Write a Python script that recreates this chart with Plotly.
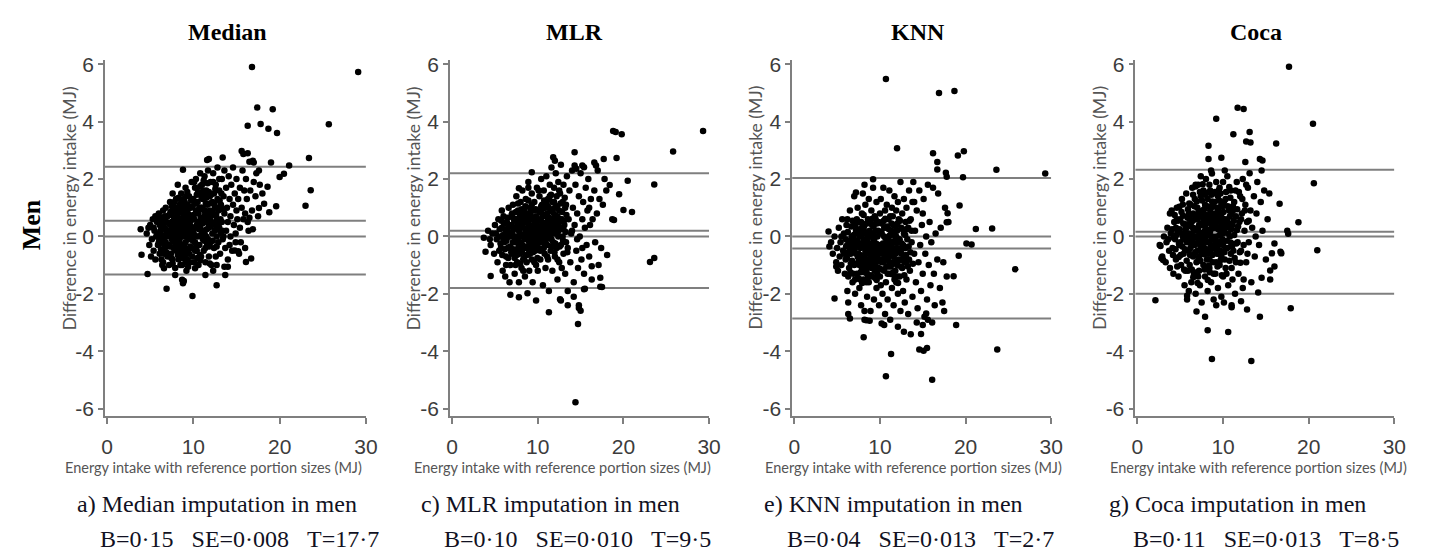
import plotly.graph_objects as go

# ---------------- data ----------------
panel_titles = ["Median", "MLR", "KNN", "Coca"]
captions = ["a) Median imputation in men", "c) MLR imputation in men",
            "e) KNN imputation in men", "g) Coca imputation in men"]
stats = ["B=0·15   SE=0·008   T=17·7", "B=0·10   SE=0·010   T=9·5",
         "B=0·04   SE=0·013   T=2·7", "B=0·11   SE=0·013   T=8·5"]

# horizontal reference lines (upper LoA, mean difference, zero, lower LoA)
median_lines = [2.43, 0.55, 0.0, -1.33]
mlr_lines = [2.20, 0.20, 0.0, -1.80]
knn_lines = [2.04, 0.0, -0.42, -2.86]
coca_lines = [2.32, 0.16, 0.0, -2.00]

x_ticks = [0, 10, 20, 30]
y_ticks = [-6, -4, -2, 0, 2, 4, 6]
y_ticktext = ["-6", "-4", "-2", "0", "2", "4", "6"]

median_pts = [
    (3.9, 0.25), (4.0, -0.64), (4.7, -1.31), (6.9, -1.82), (9.9, -2.08), (8.8, -1.63), (8.9, -1.55),
    (12.7, -1.7), (11.4, -1.34), (13.6, -1.06), (14.0, -1.06), (13.7, -1.34), (12.3, -1.2), (16.1, -0.89),
    (16.7, -0.77), (8.8, 2.32), (11.8, 2.7), (11.6, 2.66), (13.4, 2.75), (15.6, 2.98), (15.8, 2.87),
    (16.9, 2.64), (17.0, 2.58), (19.0, 2.58), (21.1, 2.47), (20.5, 2.18), (20.0, 2.07), (18.6, 1.73),
    (18.8, 0.84), (19.6, 1.05), (18.2, 1.14), (17.6, 0.99), (16.5, 0.65), (16.8, 5.9), (29.1, 5.73),
    (17.4, 4.49), (19.2, 4.43), (16.3, 3.86), (17.8, 3.92), (18.7, 3.75), (19.7, 3.6), (25.7, 3.91),
    (23.4, 2.73), (23.6, 1.61), (23.0, 1.07), (16.3, 0.5), (16.9, 0.25), (14.8, -0.49), (15.2, -0.52),
    (6.4, -1.0), (6.6, -1.11), (7.6, -0.94), (7.9, -1.34), (8.7, -1.51), (9.4, -1.06), (10.2, -1.11),
    (10.8, -0.83), (11.9, -0.94), (12.7, -1.0),
    (4.6, 0.1), (4.9, -0.3), (5.0, 0.4), (5.2, -0.1), (5.3, 0.6), (5.4, -0.5), (5.5, 0.2), (5.6, -0.8),
    (5.7, 0.0), (5.8, 0.5), (5.9, -0.3), (6.0, 0.8), (6.1, -0.6), (6.2, 0.2), (6.3, -0.1), (6.4, 0.6),
    (6.5, -0.9), (6.6, 0.3), (6.7, -0.4), (6.8, 1.0), (6.9, 0.0), (7.0, -0.7), (5.1, -0.7), (5.6, 0.7),
    (6.0, -0.2), (6.5, 0.9), (6.9, 0.5), (4.8, 0.3), (5.9, 0.1), (6.3, -0.8), (6.8, -0.2), (5.4, 0.3),
    (6.1, 0.4), (6.6, -0.6), (7.0, 0.7),
    (7.2, -1.0), (7.2, -0.3), (7.3, 0.4), (7.3, 1.2), (7.4, -0.6), (7.4, 0.1), (7.5, 0.8), (7.5, -0.1),
    (7.6, 1.5), (7.6, -0.8), (7.7, 0.3), (7.7, -0.4), (7.8, 0.9), (7.8, 0.0), (7.9, -1.1), (7.9, 0.5),
    (8.0, 1.3), (8.0, -0.5), (8.1, 0.2), (8.1, -0.2), (8.2, 0.7), (8.2, 1.8), (8.3, -0.8), (8.3, 0.4),
    (8.4, 1.1), (8.4, -0.1), (8.5, -0.6), (8.5, 0.6), (8.6, 1.5), (8.6, 0.0), (8.7, -1.0), (8.7, 0.3),
    (8.8, 0.9), (8.8, -0.3), (8.9, 1.3), (8.9, 0.1), (9.0, -0.7), (9.0, 0.5), (9.1, 1.7), (9.1, -0.2),
    (9.2, 0.8), (9.2, -1.2), (9.3, 0.2), (9.3, 1.1), (9.4, -0.5), (9.4, 0.6), (9.5, 1.4), (9.5, -0.1),
    (9.6, -0.9), (9.6, 0.4), (9.7, 1.0), (9.7, 0.0), (9.8, -0.4), (9.8, 1.9), (9.9, 0.7), (9.9, -0.7),
    (7.5, 0.5), (8.0, 0.0), (8.5, 0.2), (9.0, 0.0), (9.5, 0.3), (8.3, -0.4), (8.8, -0.6), (9.3, -0.8),
    (7.9, 1.0), (8.6, 1.2), (9.2, 1.4),
    (10.0, 0.2), (10.0, 1.3), (10.1, -0.9), (10.1, 0.6), (10.2, 1.7), (10.2, -0.2), (10.3, 0.9), (10.3, 2.0),
    (10.4, -0.5), (10.4, 0.4), (10.5, 1.2), (10.5, 0.0), (10.6, -1.0), (10.6, 0.8), (10.7, 1.5), (10.7, -0.3),
    (10.8, 0.3), (10.8, 2.2), (10.9, 1.0), (10.9, -0.7), (11.0, 0.6), (11.0, 1.8), (11.1, -0.1), (11.1, 1.3),
    (11.2, 0.2), (11.2, -0.5), (11.3, 0.9), (11.3, 2.1), (11.4, -0.9), (11.4, 0.5), (11.5, 1.6), (11.5, 0.0),
    (11.6, 1.1), (11.6, -0.3), (11.7, 0.7), (11.7, 2.3), (11.8, -0.7), (11.8, 0.3), (11.9, 1.4), (11.9, 0.9),
    (12.0, -0.2), (12.0, 1.9), (12.1, 0.5), (12.1, -1.0), (12.2, 1.2), (12.2, 0.1), (12.3, 0.8), (12.3, 2.2),
    (12.4, -0.4), (12.4, 1.5), (12.5, 0.4), (12.5, 1.0), (12.6, -0.7), (12.6, 1.8), (12.7, 0.6), (12.7, 0.0),
    (12.8, 1.3), (12.8, 2.4), (12.9, -0.2), (12.9, 0.9), (13.0, 1.6), (13.0, 0.3), (10.5, 0.5), (11.0, 0.1),
    (11.5, 0.6), (12.0, 0.7), (12.5, 0.2), (11.3, 1.5),
    (13.1, -0.6), (13.2, 1.1), (13.3, 2.0), (13.3, 0.5), (13.4, -0.1), (13.5, 1.4), (13.6, 0.8), (13.6, 2.3),
    (13.7, -0.4), (13.8, 0.2), (13.8, 1.7), (13.9, 1.0), (14.0, -0.8), (14.0, 0.5), (14.1, 2.1), (14.2, 1.3),
    (14.3, 0.0), (14.3, 0.7), (14.4, 1.8), (14.5, -0.5), (14.6, 1.1), (14.6, 2.4), (14.7, 0.4), (14.8, 1.5),
    (14.9, -0.2), (15.0, 0.9), (15.0, 2.0), (15.1, 0.6), (15.2, 1.3), (15.3, -0.6), (15.4, 0.3), (15.4, 1.7),
    (13.5, 0.0), (14.2, -0.3), (14.9, 0.1),
    (15.6, 1.0), (15.7, 2.3), (15.8, 0.6), (15.9, 1.6), (16.0, -0.4), (16.1, 2.0), (16.2, 1.3), (16.4, 0.2),
    (16.5, 2.6), (16.6, 1.6), (16.8, 0.9), (17.0, 1.9), (17.2, 1.4), (17.3, 2.2), (17.5, 0.7), (17.7, 1.8),
    (18.0, 1.5), (16.3, 2.9), (17.6, 2.3), (15.5, -0.2), (16.0, 0.8),
]
median_core = [
    (6.25, -0.45), (6.35, 0.05), (6.45, 0.45), (6.55, -0.25), (6.75, 0.25), (6.85, -0.55), (6.95, 0.15),
    (6.15, 0.65), (6.05, -0.15), (6.7, 0.7), (6.3, 0.3), (6.6, -0.05),
    (7.05, 0.05), (7.15, 0.45), (7.25, -0.35), (7.35, 0.85), (7.45, -0.75), (7.55, 0.25), (7.65, -0.15),
    (7.75, 0.65), (7.85, -0.45), (7.95, 0.15), (7.1, -0.6), (7.3, 0.2), (7.5, 1.05), (7.7, 0.05),
    (7.9, -0.25), (7.2, 0.75), (7.6, 0.45), (7.8, 1.2),
    (8.05, 0.35), (8.15, -0.45), (8.25, 0.95), (8.35, 0.05), (8.45, -0.25), (8.55, 0.85), (8.65, 0.35),
    (8.75, -0.75), (8.85, 0.45), (8.95, -0.35), (8.1, 0.6), (8.3, 1.35), (8.5, -1.0), (8.7, 1.0), (8.9, 0.7),
    (8.2, -0.65), (8.4, 0.55), (8.6, -0.45), (8.8, 0.15), (8.0, 0.85),
    (9.05, 0.25), (9.15, 1.05), (9.25, -0.45), (9.35, 0.55), (9.45, 0.05), (9.55, 0.75), (9.65, -0.35),
    (9.75, 1.25), (9.85, 0.25), (9.95, -0.15), (9.1, -0.9), (9.3, 1.55), (9.5, -0.6), (9.7, 0.55),
    (9.9, 1.05), (9.2, 0.35), (9.4, 0.95), (9.6, 0.15), (9.8, -0.05), (9.0, 1.2),
    (10.05, 0.75), (10.15, 0.05), (10.25, 1.15), (10.35, -0.35), (10.45, 0.85), (10.55, 1.55), (10.65, 0.25),
    (10.75, -0.65), (10.85, 0.65), (10.95, 1.35), (10.1, 1.9), (10.3, 0.35), (10.5, -0.75), (10.7, 1.0),
    (10.9, 0.05), (10.2, -0.5), (10.4, 1.45), (10.6, 0.45), (10.8, 1.75), (11.0, 1.0),
    (11.05, 0.45), (11.15, 1.6), (11.25, -0.15), (11.35, 0.75), (11.45, 1.15), (11.55, 0.25), (11.65, 1.85),
    (11.75, 0.45), (11.85, -0.35), (11.95, 1.15), (11.1, 0.95), (11.3, 0.1), (11.5, 1.35), (11.7, -0.1),
    (11.9, 0.6), (11.2, 1.95), (11.4, -0.4), (11.6, 0.75), (11.8, 1.55), (12.0, 0.35),
    (12.05, 1.45), (12.15, 0.85), (12.25, -0.15), (12.35, 0.45), (12.45, 1.15), (12.55, 1.65), (12.65, 0.75),
    (12.75, 0.25), (12.85, 1.0), (12.95, 0.45), (13.05, 1.25), (13.15, 0.6), (13.25, 1.5), (13.35, 0.2),
    (13.45, 0.95), (12.3, 1.9), (12.7, -0.35), (13.0, 2.0), (12.5, 0.75), (13.2, 0.1),
]

mlr_pts = [
    (14.3, 2.93), (11.8, 2.76), (12.0, 2.64), (9.3, 2.24), (14.3, 2.47), (14.5, 2.36), (15.2, 2.47),
    (15.4, 2.41), (16.6, 2.58), (16.8, 2.47), (17.7, 2.7), (19.2, 2.73), (20.5, 1.94), (19.5, 1.47),
    (20.0, 0.92), (21.0, 0.85), (18.7, 0.6), (18.9, 0.57), (18.4, 1.79), (18.1, -0.65), (17.3, -1.44),
    (17.3, -1.75), (16.3, -1.04), (15.4, -1.84), (13.5, -2.4), (14.8, -2.4), (12.7, -2.23), (9.8, -2.23),
    (8.8, -1.98), (7.8, -2.12), (6.8, -2.03), (4.5, -1.38), (3.9, -0.53), (3.7, -0.05), (7.8, 1.68),
    (8.9, 1.70), (25.8, 2.96), (29.3, 3.67), (18.8, 3.67), (19.1, 3.64), (19.8, 3.56), (23.6, 1.81),
    (23.1, -0.89), (23.6, -0.75), (14.4, -5.78), (14.7, -3.05), (14.8, -2.49), (15.0, -2.59),
    (11.3, -2.64), (12.6, -2.19), (17.5, -1.76), (15.5, -1.82),
    (4.2, 0.2), (4.5, -0.3), (4.7, 0.1), (4.9, -0.6), (5.0, 0.4), (5.2, -0.1), (5.3, -0.9), (5.4, 0.6),
    (5.6, 0.0), (5.7, -0.4), (5.8, 0.3), (5.9, -1.2), (6.0, 0.7), (6.1, -0.2), (6.2, 0.1), (6.3, -0.7),
    (6.4, 0.5), (6.5, -0.4), (6.6, 1.0), (6.7, 0.0), (6.8, -1.0), (6.9, 0.4), (7.0, -0.6), (5.1, 0.1),
    (5.5, -0.5), (6.0, -0.1), (6.5, 0.2), (4.4, -0.1), (6.2, -1.4), (6.7, -1.6), (7.0, 0.8), (5.8, 0.9),
    (7.1, -0.2), (7.1, 1.1), (7.2, 0.3), (7.3, -1.3), (7.3, 0.6), (7.4, -0.5), (7.5, 0.0), (7.5, 1.4),
    (7.6, -0.9), (7.6, 0.4), (7.7, 0.9), (7.7, -0.2), (7.8, -1.6), (7.8, 0.2), (7.9, 0.7), (7.9, -0.6),
    (8.0, 1.2), (8.0, 0.0), (8.1, -1.1), (8.1, 0.5), (8.2, -0.3), (8.2, 1.6), (8.3, 0.3), (8.3, -0.8),
    (8.4, 0.9), (8.4, 0.0), (8.5, -1.4), (8.5, 0.6), (8.6, -0.4), (8.6, 1.3), (8.7, 0.2), (8.7, -0.9),
    (8.8, 0.8), (8.8, -0.1), (8.9, 1.9), (8.9, -0.6), (9.0, 0.4), (9.0, -1.2), (9.1, 1.0), (9.1, 0.0),
    (9.2, -0.4), (9.2, 0.6), (9.3, 1.5), (9.3, -0.8), (9.4, 0.2), (9.4, -1.6), (9.5, 0.9), (9.5, -0.2),
    (9.6, 0.5), (9.6, 1.2), (9.7, -0.5), (9.7, 0.1), (9.8, -1.0), (9.8, 0.7), (9.9, 1.7), (9.9, -0.3),
    (7.5, 0.6), (8.0, -0.5), (8.5, 0.1), (9.0, -0.2), (9.5, 0.3), (8.2, 0.8), (8.9, 0.3), (9.6, -0.9),
    (7.4, -1.0),
    (10.0, 0.3), (10.0, -1.2), (10.1, 0.9), (10.1, -0.4), (10.2, 1.4), (10.2, 0.0), (10.3, -0.8), (10.3, 0.6),
    (10.4, 2.0), (10.4, 0.2), (10.5, -0.2), (10.5, 1.1), (10.6, -1.7), (10.6, 0.7), (10.7, 0.0), (10.7, 1.6),
    (10.8, -0.6), (10.8, 0.4), (10.9, 1.0), (10.9, -1.1), (11.0, 0.2), (11.0, 2.1), (11.1, -0.3), (11.1, 0.8),
    (11.2, 1.3), (11.2, -0.8), (11.3, 0.5), (11.3, -1.9), (11.4, 1.8), (11.4, 0.0), (11.5, -0.5), (11.5, 0.9),
    (11.6, 2.4), (11.6, 0.3), (11.7, -1.2), (11.7, 1.2), (11.8, 0.6), (11.8, -0.2), (11.9, 1.7), (11.9, 0.1),
    (12.0, -0.7), (12.0, 1.0), (12.1, 2.2), (12.1, 0.4), (12.2, -0.4), (12.2, 1.4), (12.3, 0.7), (12.3, -1.5),
    (12.4, 0.0), (12.4, 1.9), (12.5, -0.9), (12.5, 0.9), (12.6, 0.3), (12.6, 1.5), (12.7, -0.3), (12.7, 2.5),
    (12.8, 0.6), (12.8, -1.1), (12.9, 1.2), (12.9, 0.0), (13.0, -0.6), (13.0, 1.8), (10.5, 0.5), (11.0, -0.1),
    (11.5, 0.4), (12.0, 0.3), (12.5, 0.5), (11.2, 0.1),
    (13.1, 0.4), (13.2, -1.3), (13.3, 1.1), (13.4, 2.1), (13.5, -0.4), (13.6, 0.6), (13.7, 1.6), (13.8, -0.9),
    (13.9, 0.1), (14.0, 2.3), (14.1, 1.0), (14.2, -1.6), (14.3, 0.4), (14.4, 1.8), (14.5, -0.5), (14.6, 0.8),
    (14.7, -1.1), (14.8, 1.4), (14.9, 0.0), (15.0, 2.2), (15.1, -0.8), (15.2, 0.6), (15.3, 1.2), (15.4, -1.3),
    (15.5, 0.3), (15.6, 1.7), (15.7, -0.3), (15.8, 0.9), (15.9, 2.0), (16.0, -0.7), (16.1, 0.4), (16.2, 1.3),
    (16.3, -1.5), (16.4, 0.6), (16.6, 1.6), (16.7, -0.2), (16.9, 0.8), (17.0, 2.3), (17.2, 1.3), (17.4, -0.4),
    (17.6, 1.1), (17.8, 2.0), (18.0, 1.6), (13.3, -0.2), (14.0, 0.2), (14.6, -0.1), (15.2, -0.4), (16.0, 1.0),
    (17.1, -1.0), (13.5, -1.9), (14.2, -2.1),
]
mlr_core = [
    (5.55, 0.25), (5.65, -0.25), (5.75, 0.55), (5.85, -0.65), (5.95, 0.05), (6.05, 0.45), (6.15, -0.45),
    (6.25, 0.25), (6.35, -0.15), (6.45, 0.65), (6.55, -0.75), (6.65, 0.35), (6.75, -0.35), (6.85, 0.05),
    (6.95, 0.75), (6.3, -1.0), (6.6, 0.0), (6.9, -0.55),
    (7.05, 0.15), (7.15, -0.45), (7.25, 0.55), (7.35, -0.05), (7.45, 0.85), (7.55, -0.65), (7.65, 0.25),
    (7.75, -0.35), (7.85, 0.55), (7.95, -0.95), (7.1, 0.65), (7.3, -0.75), (7.5, 0.3), (7.7, 1.15),
    (7.9, 0.05), (7.2, -0.2), (7.6, -0.1), (7.8, 0.85),
    (8.05, 0.35), (8.15, -0.55), (8.25, 0.05), (8.35, 0.65), (8.45, -0.35), (8.55, 1.05), (8.65, 0.25),
    (8.75, -0.65), (8.85, 0.45), (8.95, -0.15), (8.1, 0.95), (8.3, -1.2), (8.5, -0.1), (8.7, 0.65),
    (8.9, 1.25), (8.2, 0.45), (8.4, -0.75), (8.6, 0.05), (8.8, -0.4), (8.0, -0.2),
    (9.05, 0.15), (9.15, 0.75), (9.25, -0.25), (9.35, 0.35), (9.45, -0.55), (9.55, 0.65), (9.65, -0.05),
    (9.75, 0.95), (9.85, 0.25), (9.95, -0.75), (9.1, -0.6), (9.3, 1.1), (9.5, 0.1), (9.7, 0.45),
    (9.9, 0.55), (9.2, 0.95), (9.4, -0.15), (9.6, -0.35), (9.8, 0.05), (9.0, 0.7),
    (10.05, 0.55), (10.15, -0.15), (10.25, 0.85), (10.35, 0.15), (10.45, -0.45), (10.55, 0.75), (10.65, 0.25),
    (10.75, 1.25), (10.85, -0.25), (10.95, 0.45), (10.1, 1.6), (10.3, -0.5), (10.5, 0.95), (10.7, -0.4),
    (10.9, 0.75), (10.2, 0.35), (10.4, 1.05), (10.6, -0.05), (10.8, 0.15), (11.0, 1.15),
    (11.05, 0.35), (11.15, 1.05), (11.25, -0.05), (11.35, 0.65), (11.45, 0.25), (11.55, 1.45), (11.65, -0.35),
    (11.75, 0.85), (11.85, 0.45), (11.95, -0.55), (11.1, -0.7), (11.3, 1.0), (11.5, 0.1), (11.7, 0.55),
    (11.9, 1.2), (11.2, 0.6), (11.4, 1.4), (11.6, -0.1), (11.8, 0.2), (12.0, 0.75),
    (12.05, -0.25), (12.15, 0.65), (12.25, 1.05), (12.35, 0.15), (12.45, 0.55), (12.55, -0.35), (12.65, 1.15),
    (12.75, 0.25), (12.85, 0.85), (12.95, -0.15), (13.05, 0.55), (13.15, 1.35), (13.25, 0.15), (13.35, 0.75),
    (13.45, -0.55), (12.3, -0.8), (12.7, 0.6), (13.0, 0.25), (12.5, 1.6), (13.2, 1.0),
]

knn_pts = [
    (12.0, 3.07), (16.2, 2.9), (16.7, 2.59), (16.7, 2.33), (19.1, 2.82), (19.8, 2.97), (19.7, 2.06),
    (19.3, 1.08), (21.2, 0.26), (20.1, -0.25), (20.7, -0.28), (19.2, -0.67), (18.6, -1.39), (18.9, -3.09),
    (17.7, 2.22), (17.8, 2.08), (17.9, 0.81), (17.8, 0.49), (4.7, -2.16), (4.0, 0.17), (4.1, -0.35),
    (4.9, -1.05), (9.2, 1.99), (7.2, 1.53), (8.2, 1.8), (6.5, -2.86), (8.2, -2.6), (8.4, -2.92),
    (8.1, -3.51), (10.2, -3.03), (10.5, -3.09), (12.1, -3.15), (12.8, -3.32), (13.6, -3.41), (14.8, -3.4),
    (8.8, -2.94), (15.0, -3.09), (15.4, -2.69), (10.7, 5.49), (16.9, 5.0), (18.7, 5.07), (23.6, 2.32),
    (29.3, 2.19), (23.1, 0.28), (25.8, -1.14), (23.7, -3.94), (10.7, -4.87), (11.3, -4.1), (16.1, -4.99),
    (14.6, -3.94), (15.1, -3.98), (15.5, -3.89),
    (4.3, -0.2), (4.5, -0.6), (4.7, 0.0), (4.9, -0.9), (5.0, -0.4), (5.1, -1.2), (5.2, 0.3), (5.3, -0.7),
    (5.4, -0.2), (5.5, -1.0), (5.6, 0.6), (5.7, -0.5), (5.8, 0.1), (5.9, -1.3), (6.0, -0.8), (6.1, 0.4),
    (6.2, -0.3), (6.3, -2.3), (6.3, -2.7), (6.4, -1.1), (6.5, 0.9), (6.6, -0.6), (6.7, 0.0), (6.8, -1.6),
    (6.9, -0.3), (7.0, 0.5), (5.5, 0.0), (6.0, -0.1), (6.5, -0.5), (7.0, -1.0), (6.2, -1.9), (5.8, -0.6),
    (7.0, 1.4),
    (7.1, -2.0), (7.2, -0.6), (7.2, 0.2), (7.3, -1.3), (7.4, 1.0), (7.4, -0.2), (7.5, -0.9), (7.6, 0.5),
    (7.6, -1.8), (7.7, -0.4), (7.8, 0.0), (7.8, -2.4), (7.9, -1.1), (7.9, 0.8), (8.0, -0.7), (8.0, 1.5),
    (8.1, -0.1), (8.1, -1.5), (8.2, 0.4), (8.2, -2.9), (8.3, -0.5), (8.3, 1.1), (8.4, -1.2), (8.4, 0.1),
    (8.5, -2.1), (8.5, -0.8), (8.6, 0.6), (8.6, -0.2), (8.7, -1.6), (8.7, 1.3), (8.8, -0.6), (8.8, 0.2),
    (8.9, -1.0), (8.9, -2.6), (9.0, 0.9), (9.0, -0.3), (9.1, -1.4), (9.1, 0.4), (9.2, -0.8), (9.2, 1.7),
    (9.3, -0.1), (9.3, -2.2), (9.4, 0.7), (9.4, -1.2), (9.5, -0.5), (9.5, 0.2), (9.6, -1.8), (9.6, 1.2),
    (9.7, -0.7), (9.7, 0.0), (9.8, -1.1), (9.8, 0.5), (9.9, -2.4), (9.9, -0.3), (7.5, -0.3), (8.0, -0.3),
    (8.5, -0.4), (9.0, -0.6), (9.5, -1.0), (8.2, -1.0), (8.9, 0.0), (7.7, -1.5), (9.3, -0.4),
    (10.0, 0.8), (10.0, -1.4), (10.1, -0.4), (10.1, 1.3), (10.2, -0.9), (10.2, 0.1), (10.3, -2.0), (10.3, 0.5),
    (10.4, -0.6), (10.4, 1.7), (10.5, -1.2), (10.5, 0.0), (10.6, -2.7), (10.6, 0.9), (10.7, -0.3), (10.7, -1.6),
    (10.8, 0.3), (10.8, 1.1), (10.9, -0.8), (10.9, -2.2), (11.0, 0.6), (11.0, -0.1), (11.1, -1.3), (11.1, 1.6),
    (11.2, -0.5), (11.2, -2.9), (11.3, 0.2), (11.3, -1.0), (11.4, 1.0), (11.4, -1.8), (11.5, -0.2), (11.5, 0.7),
    (11.6, -0.7), (11.6, -2.4), (11.7, 0.4), (11.7, 1.4), (11.8, -1.2), (11.8, -0.1), (11.9, 0.9), (11.9, -1.6),
    (12.0, -0.4), (12.0, 0.2), (12.1, -2.0), (12.1, 1.2), (12.2, -0.8), (12.2, 0.6), (12.3, -1.4), (12.3, -0.1),
    (12.4, 1.9), (12.4, -2.6), (12.5, 0.3), (12.5, -0.6), (12.6, -1.1), (12.6, 0.8), (12.7, -0.3), (12.7, -1.9),
    (12.8, 1.3), (12.8, 0.1), (12.9, -0.9), (12.9, -2.3), (13.0, 0.5), (13.0, -0.4), (13.1, -1.5), (13.1, 1.0),
    (13.2, -0.1), (13.3, -2.7), (13.3, 0.3), (13.4, -0.8), (13.4, 1.6), (10.5, -0.5), (11.0, -0.7), (11.5, -0.4),
    (12.0, -1.0), (10.8, -0.4), (11.3, -0.5),
    (13.5, -1.2), (13.6, 0.6), (13.7, -0.2), (13.8, -2.1), (13.9, 1.9), (14.0, -0.6), (14.1, 0.2), (14.2, -1.6),
    (14.3, 0.9), (14.4, -2.5), (14.5, -0.9), (14.6, 1.6), (14.7, -0.3), (14.8, -1.9), (14.9, 0.4), (15.0, -1.3),
    (15.1, 1.3), (15.2, -2.8), (15.3, -0.6), (15.4, 0.0), (15.5, -2.2), (15.6, 1.8), (15.7, -1.0), (15.8, 0.5),
    (15.9, -1.7), (16.0, -0.2), (16.2, 1.7), (16.3, -1.3), (16.4, -2.4), (16.5, 0.1), (16.7, -0.8), (16.8, 1.5),
    (17.0, -1.8), (17.1, 0.3), (17.3, -2.3), (17.4, -0.9), (17.6, 1.0), (17.8, -1.4), (18.0, 0.5), (17.5, -2.6),
    (14.0, 1.2), (15.0, 0.8), (16.1, -3.0), (14.3, -3.0), (13.8, 1.2), (15.6, -2.9),
]
knn_core = [
    (6.05, -0.35), (6.15, -0.75), (6.25, 0.15), (6.35, -0.55), (6.45, -0.15), (6.55, -1.25), (6.65, 0.35),
    (6.75, -0.85), (6.85, -0.35), (6.95, 0.05), (6.3, -1.4), (6.6, -0.95), (6.9, -1.3), (6.2, 0.6), (6.8, 0.55),
    (7.05, -0.45), (7.15, 0.35), (7.25, -0.95), (7.35, -0.15), (7.45, -1.45), (7.55, 0.15), (7.65, -0.65),
    (7.75, -1.25), (7.85, -0.25), (7.95, 0.35), (7.1, -1.5), (7.3, 0.6), (7.5, -0.6), (7.7, 0.25),
    (7.9, -0.85), (7.2, -0.3), (7.6, -1.0), (7.8, 0.5),
    (8.05, -0.25), (8.15, -1.25), (8.25, 0.15), (8.35, -0.85), (8.45, 0.45), (8.55, -0.35), (8.65, -1.05),
    (8.75, 0.05), (8.85, -0.45), (8.95, -1.35), (8.1, 0.75), (8.3, -0.2), (8.5, -1.3), (8.7, -0.6),
    (8.9, 0.45), (8.2, -0.65), (8.4, -1.6), (8.6, -0.05), (8.8, -0.95), (8.0, 0.1),
    (9.05, -0.95), (9.15, -0.25), (9.25, 0.35), (9.35, -0.65), (9.45, -1.45), (9.55, -0.25), (9.65, 0.45),
    (9.75, -0.45), (9.85, -0.85), (9.95, 0.15), (9.1, 0.1), (9.3, -1.0), (9.5, 0.6), (9.7, -1.3),
    (9.9, -0.6), (9.2, -0.5), (9.4, 0.0), (9.6, -0.75), (9.8, 0.2), (9.0, -1.1),
    (10.05, -0.55), (10.15, 0.15), (10.25, -1.15), (10.35, -0.25), (10.45, 0.55), (10.55, -0.75),
    (10.65, -0.05), (10.75, -1.05), (10.85, 0.35), (10.95, -0.45), (10.1, -1.7), (10.3, -0.6), (10.5, 0.3),
    (10.7, -0.7), (10.9, -1.3), (10.2, 0.45), (10.4, -0.9), (10.6, -0.25), (10.8, -0.15), (11.0, -1.05),
    (11.05, 0.25), (11.15, -0.35), (11.25, -1.05), (11.35, 0.45), (11.45, -0.55), (11.55, -1.25),
    (11.65, 0.05), (11.75, -0.45), (11.85, 0.35), (11.95, -0.85), (11.1, -0.9), (11.3, -0.2), (11.5, -0.9),
    (11.7, -1.5), (11.9, 0.0), (11.2, 0.7), (11.4, -0.4), (11.6, 0.4), (11.8, -0.6), (12.0, -1.4),
    (12.05, 0.45), (12.15, -0.55), (12.25, -0.15), (12.35, 0.55), (12.45, -1.05), (12.55, -0.25),
    (12.65, 0.25), (12.75, -0.75), (12.85, -1.35), (12.95, 0.05), (13.05, -0.65), (13.15, 0.25),
    (13.25, -1.05), (13.35, -0.35), (13.45, 0.55), (13.55, -0.55), (13.7, 0.2), (13.85, -0.95),
    (12.4, -0.5), (12.9, -0.4),
    (7.42, -0.72), (7.92, -1.62), (8.42, -0.52), (8.92, -0.72), (9.42, -0.92), (9.92, -1.12), (10.42, -0.32),
    (10.92, -0.62), (11.42, -1.32), (11.92, -0.22), (12.42, -0.82), (7.62, 0.02), (8.12, 0.32), (8.62, -1.42),
    (9.12, 0.62), (9.62, -1.52), (10.12, -0.82), (10.62, 0.62), (11.12, 0.02), (11.62, -0.92), (12.12, -1.62),
    (12.62, -0.42), (13.12, -0.92), (6.52, -0.32), (7.02, -0.12),
]

coca_pts = [
    (11.2, 3.56), (13.1, 3.64), (12.7, 3.31), (13.2, 3.27), (8.3, 3.16), (8.3, 2.7), (9.8, 2.74),
    (16.2, 3.24), (14.3, 2.7), (14.6, 2.65), (12.6, 2.59), (20.6, 1.85), (18.8, 0.49), (17.5, 0.2),
    (17.6, 0.09), (21.0, -0.48), (16.6, 1.14), (16.0, -0.25), (16.7, -0.53), (16.8, -0.59), (15.7, -0.59),
    (16.0, -1.05), (15.5, -1.19), (15.5, -1.5), (14.5, -1.44), (14.1, -1.95), (17.9, -2.5), (2.1, -2.22),
    (2.7, -0.33), (2.8, -0.76), (3.0, -0.82), (3.8, 0.8), (4.9, 1.03), (5.3, 1.11), (6.8, 1.74), (8.7, 2.19),
    (5.8, -2.07), (10.1, -2.3), (11.0, -2.47), (12.1, -2.26), (12.8, -2.55), (17.7, 5.91), (20.5, 3.93),
    (8.7, -4.27), (13.3, -4.34), (10.6, -3.33), (8.2, -3.27), (7.9, -2.8), (6.9, -2.62), (14.3, -2.8),
    (11.7, 4.48), (12.4, 4.44), (9.2, 4.1),
    (2.6, -0.3), (2.9, -0.7), (3.1, 0.0), (3.3, -0.9), (3.4, -0.2), (3.5, 0.3), (3.7, -0.5), (3.8, -1.1),
    (3.9, 0.1), (4.0, 0.9), (4.1, -0.4), (4.2, -1.3), (4.3, 0.5), (4.4, -0.1), (4.5, -0.8), (4.6, 1.0),
    (4.7, 0.2), (4.8, -1.4), (4.9, -0.3), (5.0, 0.6), (5.1, -1.0), (5.2, 1.3), (5.3, 0.0), (5.4, -0.6),
    (5.5, -1.7), (5.6, 0.4), (5.7, 1.5), (5.8, -0.2), (5.9, -1.2), (6.0, 0.8), (4.5, 0.3), (5.0, -0.2),
    (5.5, 0.1), (6.0, -0.5), (3.6, -0.1), (5.8, -2.2), (6.0, -1.9),
    (6.1, 0.1), (6.1, -1.0), (6.2, 1.1), (6.2, -0.4), (6.3, 0.5), (6.3, -1.6), (6.4, 1.7), (6.4, -0.1),
    (6.5, -0.7), (6.5, 0.8), (6.6, 0.2), (6.6, -1.3), (6.7, 1.3), (6.7, -0.3), (6.8, -2.0), (6.8, 0.6),
    (6.9, -0.9), (6.9, 0.0), (7.0, 1.0), (7.0, -0.5), (7.1, 1.8), (7.1, 0.3), (7.2, -1.2), (7.2, -0.1),
    (7.3, 0.7), (7.3, -1.7), (7.4, 1.4), (7.4, 0.1), (7.5, -0.6), (7.5, -2.3), (7.6, 0.9), (7.6, -0.2),
    (7.7, 1.6), (7.7, -1.0), (7.8, 0.4), (7.8, -0.4), (7.9, 1.1), (7.9, -1.4), (8.0, 0.0), (8.0, 2.0),
    (8.1, 0.7), (8.1, -0.8), (8.2, 1.3), (8.2, -1.9), (8.3, -0.2), (8.3, 0.5), (8.4, 1.8), (8.4, -1.1),
    (8.5, 0.2), (8.5, -0.5), (8.6, 1.0), (8.6, -1.6), (8.7, 0.6), (8.7, -0.1), (8.8, 1.5), (8.8, -0.9),
    (8.9, 0.3), (8.9, -2.2), (9.0, 1.2), (9.0, -0.3), (6.5, 0.3), (7.0, 0.2), (7.5, 0.4), (8.0, 0.5),
    (8.5, 0.9), (7.2, -0.7), (7.8, -0.1), (8.3, -0.6), (8.8, 0.0), (6.8, 1.8), (7.4, 2.1), (8.6, 2.3),
    (9.1, 0.8), (9.1, -1.3), (9.2, 0.0), (9.2, 1.9), (9.3, -0.6), (9.3, 0.5), (9.4, 1.4), (9.4, -1.8),
    (9.5, -0.2), (9.5, 0.9), (9.6, -1.0), (9.6, 1.7), (9.7, 0.3), (9.7, -0.5), (9.8, 1.1), (9.8, -2.1),
    (9.9, 0.6), (9.9, -0.1), (10.0, 1.9), (10.0, -1.4), (10.1, 0.2), (10.2, -0.8), (10.3, 1.3), (10.4, 0.5),
    (10.5, -0.4), (10.5, 2.1), (10.6, -1.7), (10.7, 0.9), (10.8, 0.0), (10.9, 1.6), (11.0, -1.1), (11.1, 0.4),
    (11.2, -0.5), (11.3, 1.2), (11.4, -2.0), (11.5, 0.7), (11.6, 1.9), (11.7, -0.2), (11.8, -1.3), (11.9, 0.5),
    (12.0, 1.4), (9.5, 0.3), (10.0, 0.1), (10.5, 0.6), (11.0, 0.8), (9.8, -0.7), (10.3, -1.1), (10.9, -0.6),
    (11.5, -0.9), (9.2, -2.4), (11.0, -2.4), (10.2, 2.3),
    (12.1, -0.5), (12.2, 0.8), (12.3, 2.0), (12.4, -1.5), (12.5, 0.2), (12.6, 1.1), (12.7, -0.9), (12.8, 0.5),
    (12.9, 1.7), (13.0, -0.2), (13.1, 2.2), (13.2, 0.9), (13.3, -1.6), (13.4, 0.3), (13.6, 1.4), (13.7, -0.7),
    (13.9, 0.8), (14.0, 1.9), (14.2, -0.3), (14.4, 1.2), (14.6, 0.2), (14.8, 1.6), (15.0, -0.8), (15.2, 0.6),
    (15.4, 1.5), (12.3, -1.8), (13.8, 0.0), (14.5, 2.3),
]
coca_core = [
    (4.05, 0.25), (4.15, -0.65), (4.25, -0.05), (4.35, 0.75), (4.45, -0.45), (4.55, 0.05), (4.65, -1.05),
    (4.75, 0.55), (4.85, -0.25), (4.95, 0.25), (5.05, -0.65), (5.15, 0.85), (5.25, -0.35), (5.35, 0.45),
    (5.45, -1.15), (4.6, 0.6), (5.2, 0.1), (5.4, -0.1),
    (5.55, -0.45), (5.65, 0.25), (5.75, -0.85), (5.85, 0.65), (5.95, -0.15), (6.05, 1.15), (6.15, -0.65),
    (6.25, 0.35), (6.35, -1.15), (6.45, 0.55), (6.55, -0.25), (6.65, 1.05), (6.75, -0.55), (6.85, 0.25),
    (6.95, -1.25), (5.6, -1.2), (5.9, 0.95), (6.2, -0.1), (6.5, 1.45), (6.8, -0.05), (7.0, 0.6), (5.7, 0.0),
    (7.05, -0.25), (7.15, 0.85), (7.25, 0.05), (7.35, -0.85), (7.45, 0.45), (7.55, 1.25), (7.65, -0.45),
    (7.75, 0.15), (7.85, -1.15), (7.95, 0.75), (7.1, -1.4), (7.3, 1.55), (7.5, -0.3), (7.7, 0.6),
    (7.9, 1.45), (7.2, 0.4), (7.4, -0.4), (7.6, 0.0), (7.8, 0.95), (8.0, -0.6),
    (8.05, 0.25), (8.15, 1.05), (8.25, -0.45), (8.35, 0.75), (8.45, -1.25), (8.55, 0.45), (8.65, 1.45),
    (8.75, -0.65), (8.85, 0.75), (8.95, -0.05), (8.1, -0.2), (8.3, 0.15), (8.5, 1.6), (8.7, 0.3),
    (8.9, -1.3), (8.2, 0.55), (8.4, -0.8), (8.6, -0.3), (8.8, 1.1), (9.0, 0.45),
    (9.05, 1.55), (9.15, -0.45), (9.25, 0.65), (9.35, -1.05), (9.45, 0.25), (9.55, 1.25), (9.65, -0.25),
    (9.75, 0.75), (9.85, -1.35), (9.95, 1.05), (9.1, 0.3), (9.3, 1.0), (9.5, -0.6), (9.7, 1.5),
    (9.9, 0.15), (9.2, -0.9), (9.4, 0.6), (9.6, 0.05), (9.8, 0.45), (10.0, -0.3),
    (10.05, 0.85), (10.15, -0.55), (10.25, 0.35), (10.35, 1.55), (10.45, -0.15), (10.55, 1.05), (10.65, 0.45),
    (10.75, -0.85), (10.85, 1.35), (10.95, 0.25), (11.05, -0.35), (11.15, 1.05), (11.25, 0.55), (11.35, -0.75),
    (11.45, 1.6), (10.4, -1.3), (10.6, 0.1), (10.8, 0.7), (11.1, -1.5), (11.3, 0.05),
    (11.55, -0.25), (11.65, 0.95), (11.75, 0.35), (11.85, 1.55), (11.95, -0.55), (12.1, 0.6), (12.25, 1.3),
    (12.4, -0.3), (12.55, 0.9), (12.7, 1.8), (12.85, -0.6), (13.0, 0.55),
    (6.12, 0.62), (6.32, -0.32), (6.52, -1.42), (6.72, 0.72), (6.92, 1.22), (7.12, -0.82), (7.32, 0.12),
    (7.52, 0.82), (7.72, -0.62), (7.92, 0.32), (8.12, 1.52), (8.32, -1.02), (8.52, 0.02), (8.72, 1.22),
    (8.92, 0.62), (9.12, -0.12), (9.32, 0.82), (9.52, 1.62), (9.72, -0.82), (9.92, 0.42), (10.12, 1.22),
    (10.32, -0.42), (10.52, 0.32), (10.72, 1.72), (10.92, -0.22), (6.42, 0.02), (7.02, -1.62), (7.62, 1.82),
    (8.22, -1.52), (8.82, -0.42), (9.42, -0.32), (10.02, 0.62), (5.32, 0.72), (5.82, 0.42), (4.82, -0.72),
    (11.22, 0.92), (11.62, 0.22), (12.02, -0.92),
]

# ---------------- layout helpers ----------------
W, H = 1438, 558
x_dom_px = [(102, 366), (451, 713), (797, 1059), (1144, 1406)]
y_dom_px = (54, 417)
title_x_px = [226, 577, 924, 1266]
ytitle_x_px = [67, 415, 760, 1108]
xtitle_x_px = [212, 565, 920, 1269]
caption_x_px = [72, 420, 767, 1115]
stats_x_px = [95, 443, 790, 1140]

all_pts = [median_pts + median_core, mlr_pts + mlr_core, knn_pts + knn_core, coca_pts + coca_core]
all_lines = [median_lines, mlr_lines, knn_lines, coca_lines]

GRAY = "#7f7f7f"
TICKCOL = "#3c3c3c"
TICKFONT = dict(family="Liberation Sans Narrow, Arial Narrow, Liberation Sans, Arial", size=21, color=TICKCOL)
SERIF = "Liberation Serif, Times New Roman, serif"
SANS = "Lato, Carlito, Calibri, Open Sans, sans-serif"

fig = go.Figure()
layout = dict(
    width=W, height=H, margin=dict(l=0, r=0, t=0, b=0),
    paper_bgcolor="white", plot_bgcolor="white", showlegend=False,
    annotations=[],
)


def note(text, xpx, ypx, size, family, color, xanchor="center", angle=0):
    return dict(text=text, x=xpx / W, y=1 - ypx / H, xref="paper", yref="paper",
                xanchor=xanchor, yanchor="middle", showarrow=False, textangle=angle,
                font=dict(family=family, size=size, color=color))


for i in range(4):
    n = "" if i == 0 else str(i + 1)
    xa, ya = "x" + n, "y" + n
    pts = all_pts[i]
    xs = [p[0] for p in pts]
    ys = [p[1] for p in pts]
    for yv in all_lines[i]:
        fig.add_trace(go.Scatter(x=[-0.25, 30], y=[yv, yv], mode="lines",
                                 line=dict(color=GRAY, width=2), xaxis=xa, yaxis=ya,
                                 hoverinfo="skip"))
    fig.add_trace(go.Scatter(x=xs, y=ys, mode="markers", xaxis=xa, yaxis=ya,
                             marker=dict(size=6.5, color="black", line=dict(width=0))))
    x0, x1 = x_dom_px[i]
    layout["xaxis" + n] = dict(
        domain=[x0 / W, x1 / W], anchor=ya, range=[-0.25, 30],
        tickmode="array", tickvals=x_ticks, ticks="outside", ticklen=6, tickwidth=1.5,
        tickcolor=GRAY, showline=True, linecolor=GRAY, linewidth=1.5,
        showgrid=False, zeroline=False, tickfont=TICKFONT, ticklabelstandoff=5,
    )
    layout["yaxis" + n] = dict(
        domain=[1 - y_dom_px[1] / H, 1 - y_dom_px[0] / H], anchor=xa, range=[-6.25, 6.15],
        tickmode="array", tickvals=y_ticks, ticktext=y_ticktext, ticks="outside", ticklen=5,
        tickwidth=1.5, tickcolor=GRAY, showline=True, linecolor=GRAY, linewidth=1.5,
        showgrid=False, zeroline=False, tickfont=TICKFONT,
    )
    ann = layout["annotations"]
    ann.append(note("<b>" + panel_titles[i] + "</b>", title_x_px[i], 25, 24, SERIF, "black"))
    ann.append(note("Difference in energy intake (MJ)", ytitle_x_px[i], 205, 17.5, SANS, "#555555", angle=-90))
    ann.append(note("Energy intake with reference portion sizes (MJ)", xtitle_x_px[i], 470, 14.5, SANS, "#555555"))
    ann.append(note(captions[i], caption_x_px[i], 507, 24, SERIF, "#111122", xanchor="left"))
    ann.append(note(stats[i].replace(" ", "\u00a0"), stats_x_px[i], 543, 24, SERIF, "#111122", xanchor="left"))

layout["annotations"].append(note("<b>Men</b>", 28, 222, 26, SERIF, "black", angle=-90))

fig.update_layout(**layout)
fig.write_html("out.html")
